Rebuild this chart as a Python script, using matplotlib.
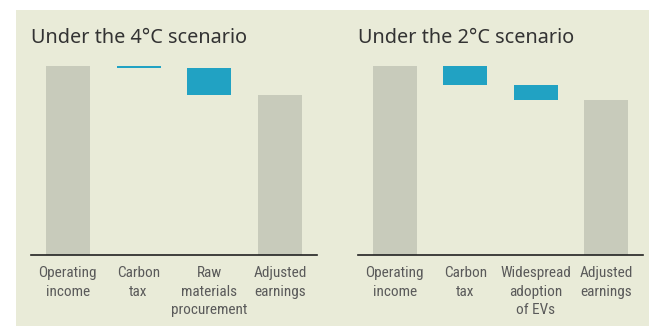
import matplotlib
matplotlib.use("Agg")
import matplotlib.pyplot as plt
from matplotlib.patches import Rectangle
from matplotlib import font_manager

# Waterfall data (operating income indexed to 100)
titles = ["Under the 4\u00b0C scenario", "Under the 2\u00b0C scenario"]
labels_4c = ["Operating\nincome", "Carbon\ntax", "Raw\nmaterials\nprocurement", "Adjusted\nearnings"]
labels_2c = ["Operating\nincome", "Carbon\ntax", "Widespread\nadoption\nof EVs", "Adjusted\nearnings"]
start_4c = 100.0
deltas_4c = [-0.8, -14.6]
start_2c = 100.0
deltas_2c = [-10.3, -7.7]

BG = "#e9ebd8"
TOTAL = "#c8cbbb"
STEP = "#21a2c3"
TITLE_C = "#333333"
LABEL_C = "#5a5a5a"

names = {f.name for f in font_manager.fontManager.ttflist}
narrow = [n for n in ["Liberation Sans Narrow", "Roboto Condensed", "Open Sans Condensed",
                      "DejaVu Sans Condensed"] if n in names]
label_font = narrow[0] if narrow else "Liberation Sans"
title_font = "Noto Sans" if "Noto Sans" in names else "DejaVu Sans"

W, H = 649, 326
fig = plt.figure(figsize=(W / 100, H / 100), dpi=100)
fig.patch.set_facecolor("white")
fig.patches.append(Rectangle((16 / W, 0), 1 - 16 / W, (H - 10) / H,
                             transform=fig.transFigure, facecolor=BG,
                             edgecolor="none", zorder=-5))


def waterfall(ax, start, deltas, labels, title):
    ax.set_facecolor("none")
    n = len(deltas) + 2
    width = 0.62
    ax.bar(0, start, width=width, color=TOTAL)
    level = start
    for i, d in enumerate(deltas, start=1):
        ax.bar(i, d, bottom=level, width=width, color=STEP)
        level += d
    ax.bar(n - 1, level, width=width, color=TOTAL)
    ax.set_xlim(-0.52, n - 1 + 0.52)
    ax.set_ylim(0, 100)
    for s in ["top", "right", "left"]:
        ax.spines[s].set_visible(False)
    ax.spines["bottom"].set_color("#222222")
    ax.spines["bottom"].set_linewidth(1.2)
    ax.set_yticks([])
    ax.set_xticks(range(n))
    ax.set_xticklabels(labels, fontsize=11, family=label_font, color=LABEL_C,
                       linespacing=1.4)
    ax.tick_params(axis="x", length=0, pad=8)
    ax.text(0.0, 1.12, title, transform=ax.transAxes, fontsize=14.3,
            family=title_font, color=TITLE_C, ha="left", va="baseline")


ax1 = fig.add_axes([31 / W, (H - 255) / H, 286 / W, 189 / H])
ax2 = fig.add_axes([358 / W, (H - 255) / H, 285 / W, 189 / H])
waterfall(ax1, start_4c, deltas_4c, labels_4c, titles[0])
waterfall(ax2, start_2c, deltas_2c, labels_2c, titles[1])

fig.savefig("out.png", dpi=100, facecolor=fig.get_facecolor())
